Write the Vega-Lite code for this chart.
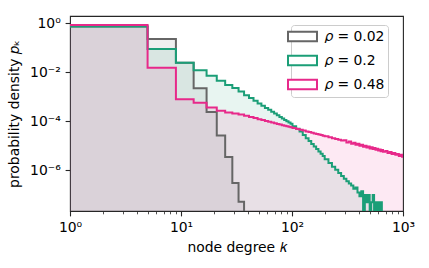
{
  "$schema": "https://vega.github.io/schema/vega-lite/v6.json",
  "width": 333,
  "height": 195,
  "autosize": {"type": "none"},
  "padding": {"left": 70, "top": 16, "right": 26, "bottom": 57},
  "background": "white",
  "config": {
    "font": "DejaVu Sans",
    "view": {"stroke": "#262626", "strokeWidth": 1.1},
    "axis": {
      "domain": false, "grid": false,
      "labelFont": "DejaVu Sans", "labelFontSize": 13.9, "labelColor": "#000",
      "titleFont": "DejaVu Sans", "titleFontSize": 13.9, "titleFontWeight": "normal", "titleColor": "#000",
      "tickColor": "#262626", "tickWidth": 1.1, "tickSize": 4.9, "labelPadding": 4.9,
      "labelFlush": false, "labelOverlap": false
    }
  },
  "data": {"values": [
    {"s": "0.02", "k": 1, "v": 0.74},
    {"s": "0.02", "k": 5, "v": 0.23},
    {"s": "0.02", "k": 9, "v": 0.0245},
    {"s": "0.02", "k": 13, "v": 0.00224},
    {"s": "0.02", "k": 17, "v": 0.00024},
    {"s": "0.02", "k": 21, "v": 2.66e-5},
    {"s": "0.02", "k": 25, "v": 3.52e-6},
    {"s": "0.02", "k": 29, "v": 3.08e-7},
    {"s": "0.02", "k": 33, "v": 5.19e-8},
    {"s": "0.02", "k": 37, "v": 1e-12},

    {"s": "0.2", "k": 1, "v": 0.74},
    {"s": "0.2", "k": 5, "v": 0.0891},
    {"s": "0.2", "k": 9, "v": 0.0245},
    {"s": "0.2", "k": 13, "v": 0.0123},
    {"s": "0.2", "k": 17, "v": 0.00724},
    {"s": "0.2", "k": 21, "v": 0.00457},
    {"s": "0.2", "k": 25, "v": 0.00302},
    {"s": "0.2", "k": 29, "v": 0.00229},
    {"s": "0.2", "k": 33, "v": 0.00166},
    {"s": "0.2", "k": 37, "v": 0.00117},
    {"s": "0.2", "k": 41, "v": 8.91e-4},
    {"s": "0.2", "k": 45, "v": 6.92e-4},
    {"s": "0.2", "k": 49, "v": 5.37e-4},
    {"s": "0.2", "k": 53, "v": 4.37e-4},
    {"s": "0.2", "k": 57, "v": 3.55e-4},
    {"s": "0.2", "k": 61, "v": 2.95e-4},
    {"s": "0.2", "k": 65, "v": 2.45e-4},
    {"s": "0.2", "k": 69, "v": 2.09e-4},
    {"s": "0.2", "k": 73, "v": 1.78e-4},
    {"s": "0.2", "k": 77, "v": 1.51e-4},
    {"s": "0.2", "k": 81, "v": 1.32e-4},
    {"s": "0.2", "k": 85, "v": 1.15e-4},
    {"s": "0.2", "k": 89, "v": 1.02e-4},
    {"s": "0.2", "k": 93, "v": 8.91e-5},
    {"s": "0.2", "k": 97, "v": 7.94e-5},
    {"s": "0.2", "k": 101, "v": 6.31e-5},
    {"s": "0.2", "k": 109, "v": 5.01e-5},
    {"s": "0.2", "k": 117, "v": 3.85e-5},
    {"s": "0.2", "k": 125, "v": 2.79e-5},
    {"s": "0.2", "k": 133, "v": 2.07e-5},
    {"s": "0.2", "k": 141, "v": 1.58e-5},
    {"s": "0.2", "k": 149, "v": 1.2e-5},
    {"s": "0.2", "k": 157, "v": 9.33e-6},
    {"s": "0.2", "k": 165, "v": 7.41e-6},
    {"s": "0.2", "k": 173, "v": 5.89e-6},
    {"s": "0.2", "k": 181, "v": 4.79e-6},
    {"s": "0.2", "k": 189, "v": 3.89e-6},
    {"s": "0.2", "k": 197, "v": 2.88e-6},
    {"s": "0.2", "k": 213, "v": 2.0e-6},
    {"s": "0.2", "k": 229, "v": 1.41e-6},
    {"s": "0.2", "k": 245, "v": 1.05e-6},
    {"s": "0.2", "k": 261, "v": 7.76e-7},
    {"s": "0.2", "k": 277, "v": 5.89e-7},
    {"s": "0.2", "k": 293, "v": 4.57e-7},
    {"s": "0.2", "k": 309, "v": 3.63e-7},
    {"s": "0.2", "k": 325, "v": 2.95e-7},
    {"s": "0.2", "k": 341, "v": 2.4e-7},
    {"s": "0.2", "k": 357, "v": 1.78e-7},
    {"s": "0.2", "k": 373, "v": 2.0e-7},
    {"s": "0.2", "k": 389, "v": 1.26e-7},
    {"s": "0.2", "k": 405, "v": 8.9e-8},
    {"s": "0.2", "k": 421, "v": 1.41e-7},
    {"s": "0.2", "k": 437, "v": 1e-12},
    {"s": "0.2", "k": 453, "v": 1.0e-7},
    {"s": "0.2", "k": 469, "v": 5.0e-8},
    {"s": "0.2", "k": 485, "v": 1.0e-7},
    {"s": "0.2", "k": 501, "v": 1e-12},
    {"s": "0.2", "k": 517, "v": 5.0e-8},
    {"s": "0.2", "k": 533, "v": 1.0e-7},
    {"s": "0.2", "k": 549, "v": 1e-12},
    {"s": "0.2", "k": 565, "v": 5.0e-8},
    {"s": "0.2", "k": 581, "v": 1e-12},
    {"s": "0.2", "k": 597, "v": 5.0e-8},
    {"s": "0.2", "k": 613, "v": 1e-12},
    {"s": "0.2", "k": 629, "v": 5.0e-8},
    {"s": "0.2", "k": 645, "v": 1e-12},

    {"s": "0.48", "k": 1, "v": 0.851},
    {"s": "0.48", "k": 5, "v": 0.0155},
    {"s": "0.48", "k": 9, "v": 7.94e-4},
    {"s": "0.48", "k": 13, "v": 5.75e-4},
    {"s": "0.48", "k": 17, "v": 3.72e-4},
    {"s": "0.48", "k": 21, "v": 2.69e-4},
    {"s": "0.48", "k": 25, "v": 2.29e-4},
    {"s": "0.48", "k": 29, "v": 2.09e-4},
    {"s": "0.48", "k": 33, "v": 1.91e-4},
    {"s": "0.48", "k": 37, "v": 1.68e-4},
    {"s": "0.48", "k": 41, "v": 1.5e-4},
    {"s": "0.48", "k": 45, "v": 1.36e-4},
    {"s": "0.48", "k": 49, "v": 1.23e-4},
    {"s": "0.48", "k": 53, "v": 1.13e-4},
    {"s": "0.48", "k": 57, "v": 1.04e-4},
    {"s": "0.48", "k": 61, "v": 9.64e-5},
    {"s": "0.48", "k": 65, "v": 8.97e-5},
    {"s": "0.48", "k": 69, "v": 8.39e-5},
    {"s": "0.48", "k": 73, "v": 7.87e-5},
    {"s": "0.48", "k": 77, "v": 7.4e-5},
    {"s": "0.48", "k": 81, "v": 7.0e-5},
    {"s": "0.48", "k": 85, "v": 6.62e-5},
    {"s": "0.48", "k": 89, "v": 6.3e-5},
    {"s": "0.48", "k": 93, "v": 5.98e-5},
    {"s": "0.48", "k": 97, "v": 5.7e-5},
    {"s": "0.48", "k": 101, "v": 5.33e-5},
    {"s": "0.48", "k": 109, "v": 4.9e-5},
    {"s": "0.48", "k": 117, "v": 4.52e-5},
    {"s": "0.48", "k": 125, "v": 4.2e-5},
    {"s": "0.48", "k": 133, "v": 3.91e-5},
    {"s": "0.48", "k": 141, "v": 3.66e-5},
    {"s": "0.48", "k": 149, "v": 3.44e-5},
    {"s": "0.48", "k": 157, "v": 3.24e-5},
    {"s": "0.48", "k": 165, "v": 3.07e-5},
    {"s": "0.48", "k": 173, "v": 2.9e-5},
    {"s": "0.48", "k": 181, "v": 2.76e-5},
    {"s": "0.48", "k": 189, "v": 2.62e-5},
    {"s": "0.48", "k": 197, "v": 2.45e-5},
    {"s": "0.48", "k": 213, "v": 2.25e-5},
    {"s": "0.48", "k": 229, "v": 2.07e-5},
    {"s": "0.48", "k": 245, "v": 1.92e-5},
    {"s": "0.48", "k": 261, "v": 1.79e-5},
    {"s": "0.48", "k": 277, "v": 1.67e-5},
    {"s": "0.48", "k": 293, "v": 1.68e-5},
    {"s": "0.48", "k": 309, "v": 1.38e-5},
    {"s": "0.48", "k": 325, "v": 1.5e-5},
    {"s": "0.48", "k": 341, "v": 1.23e-5},
    {"s": "0.48", "k": 357, "v": 1.34e-5},
    {"s": "0.48", "k": 373, "v": 1.11e-5},
    {"s": "0.48", "k": 389, "v": 1.22e-5},
    {"s": "0.48", "k": 405, "v": 1.01e-5},
    {"s": "0.48", "k": 421, "v": 1.11e-5},
    {"s": "0.48", "k": 437, "v": 9.3e-6},
    {"s": "0.48", "k": 453, "v": 1.02e-5},
    {"s": "0.48", "k": 469, "v": 8.6e-6},
    {"s": "0.48", "k": 485, "v": 9.4e-6},
    {"s": "0.48", "k": 501, "v": 7.9e-6},
    {"s": "0.48", "k": 517, "v": 8.8e-6},
    {"s": "0.48", "k": 533, "v": 7.4e-6},
    {"s": "0.48", "k": 549, "v": 8.2e-6},
    {"s": "0.48", "k": 565, "v": 6.9e-6},
    {"s": "0.48", "k": 581, "v": 7.7e-6},
    {"s": "0.48", "k": 597, "v": 6.5e-6},
    {"s": "0.48", "k": 613, "v": 7.2e-6},
    {"s": "0.48", "k": 629, "v": 6.1e-6},
    {"s": "0.48", "k": 645, "v": 6.8e-6},
    {"s": "0.48", "k": 661, "v": 5.7e-6},
    {"s": "0.48", "k": 693, "v": 6.2e-6},
    {"s": "0.48", "k": 725, "v": 5.1e-6},
    {"s": "0.48", "k": 757, "v": 5.6e-6},
    {"s": "0.48", "k": 789, "v": 4.7e-6},
    {"s": "0.48", "k": 821, "v": 5.1e-6},
    {"s": "0.48", "k": 853, "v": 4.3e-6},
    {"s": "0.48", "k": 885, "v": 4.7e-6},
    {"s": "0.48", "k": 917, "v": 3.9e-6},
    {"s": "0.48", "k": 949, "v": 4.3e-6},
    {"s": "0.48", "k": 981, "v": 3.6e-6},
    {"s": "0.48", "k": 1013, "v": 3.8e-6}
  ]},
  "encoding": {
    "x": {
      "field": "k", "type": "quantitative",
      "scale": {"type": "log", "domain": [1, 1000], "nice": false},
      "axis": {
        "title": "node degree 𝑘",
        "values": [1,2,3,4,5,6,7,8,9,10,20,30,40,50,60,70,80,90,100,200,300,400,500,600,700,800,900,1000],
        "labelExpr": "datum.value==1?'10⁰':datum.value==10?'10¹':datum.value==100?'10²':datum.value==1000?'10³':''",
        "tickSize": {"condition": {"test": "datum.value==1||datum.value==10||datum.value==100||datum.value==1000", "value": 4.9}, "value": 2.8},
        "tickWidth": {"condition": {"test": "datum.value==1||datum.value==10||datum.value==100||datum.value==1000", "value": 1.1}, "value": 0.8},
        "titlePadding": 6
      }
    },
    "y": {
      "field": "v", "type": "quantitative", "stack": null,
      "scale": {"type": "log", "domain": [2.2e-8, 2.0], "nice": false},
      "axis": {
        "title": "probability density 𝑝ₖ",
        "values": [1e-6, 1e-4, 1e-2, 1],
        "labelExpr": "datum.value>0.5?'10⁰':datum.value>0.005?'10⁻²':datum.value>0.00005?'10⁻⁴':'10⁻⁶'",
        "titlePadding": 8
      }
    }
  },
  "layer": [
    {
      "mark": {"type": "area", "interpolate": "step-after", "fillOpacity": 0.1, "clip": true},
      "encoding": {
        "color": {
          "field": "s", "type": "nominal", "legend": null,
          "scale": {"domain": ["0.02", "0.2", "0.48"], "range": ["#666666", "#1b9e77", "#e7298a"]}
        }
      }
    },
    {
      "mark": {"type": "line", "interpolate": "step-after", "strokeWidth": 2, "clip": true},
      "encoding": {
        "color": {
          "field": "s", "type": "nominal",
          "scale": {"domain": ["0.02", "0.2", "0.48"], "range": ["#666666", "#1b9e77", "#e7298a"]},
          "legend": {
            "orient": "none", "legendX": 221, "legendY": 9, "title": null, "direction": "vertical",
            "labelExpr": "'𝜌 = ' + datum.label",
            "labelFont": "DejaVu Sans", "labelFontSize": 13.9, "labelColor": "#000", "labelLimit": 200,
            "symbolType": "M-2,-0.67H2V0.67H-2Z", "symbolSize": 210, "symbolStrokeWidth": 2,
            "symbolFillColor": "white", "symbolOpacity": 1,
            "rowPadding": 5, "padding": 3, "labelOffset": 14,
            "strokeColor": "#cccccc", "fillColor": "white", "cornerRadius": 3
          }
        }
      }
    }
  ],
  "resolve": {"legend": {"color": "independent"}}
}
